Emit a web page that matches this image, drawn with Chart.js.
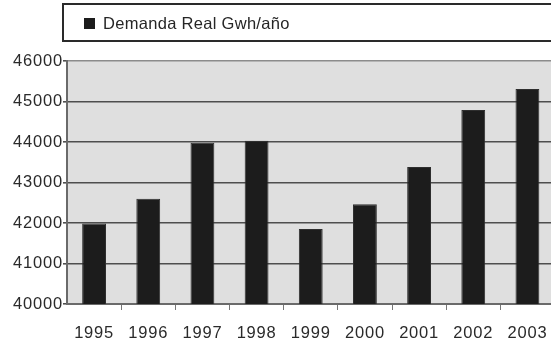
<!DOCTYPE html>
<html>
<head>
<meta charset="utf-8">
<script src="https://cdn.jsdelivr.net/npm/chart.js@4/dist/chart.umd.min.js"></script>
<style>
  html, body { margin: 0; padding: 0; background: #ffffff; overflow: hidden; }
  #wrap { position: relative; width: 560px; height: 343px; }
</style>
</head>
<body>
<div id="wrap"><canvas id="chart"></canvas></div>
<script>
// Demanda real de energía por año (GWh)
const years = ['1995', '1996', '1997', '1998', '1999', '2000', '2001', '2002', '2003'];
const demand = [41990, 42600, 43980, 44030, 41850, 42460, 43380, 44790, 45310];
const seriesLabel = 'Demanda Real Gwh/año';
const yTicks = [40000, 41000, 42000, 43000, 44000, 45000, 46000];

const FONT = 'Liberation Sans, Arial, Helvetica, sans-serif';

// Light grey fill behind the plot area
const plotBackground = {
  id: 'plotBackground',
  beforeDraw(chart) {
    const { ctx, chartArea: a } = chart;
    ctx.save();
    ctx.fillStyle = '#dfdfdf';
    ctx.fillRect(a.left, a.top, a.right - a.left, a.bottom - a.top);
    ctx.restore();
    ctx.letterSpacing = '0.8px';
  },
  afterDraw(chart) {
    chart.ctx.letterSpacing = '0px';
  }
};

// Framed legend strip above the plot
const framedLegend = {
  id: 'framedLegend',
  afterDraw(chart) {
    const { ctx } = chart;
    const ds = chart.data.datasets[0];
    ctx.save();
    ctx.letterSpacing = '0.3px';
    ctx.strokeStyle = '#2a2a2a';
    ctx.lineWidth = 2;
    ctx.strokeRect(63, 4, 520, 37);
    ctx.fillStyle = ds.backgroundColor;
    ctx.fillRect(84, 18, 11, 11);
    ctx.fillStyle = '#262626';
    ctx.font = '16.5px ' + FONT;
    ctx.textBaseline = 'middle';
    ctx.textAlign = 'left';
    ctx.fillText(ds.label, 103, 24);
    ctx.restore();
  }
};

new Chart(document.getElementById('chart'), {
  type: 'bar',
  data: {
    labels: years,
    datasets: [{
      label: seriesLabel,
      data: demand,
      backgroundColor: '#1c1c1c',
      borderColor: '#2e2e2e',
      borderWidth: 1,
      categoryPercentage: 1,
      barPercentage: 0.44
    }]
  },
  options: {
    responsive: true,
    maintainAspectRatio: false,
    animation: false,
    devicePixelRatio: 1,
    layout: { padding: { top: 61, right: 4, bottom: 0, left: 0 } },
    plugins: {
      legend: { display: false },
      tooltip: { enabled: false }
    },
    scales: {
      x: {
        offset: true,
        grid: {
          offset: true,
          drawOnChartArea: false,
          drawTicks: true,
          tickLength: 6,
          tickColor: ctx => (ctx.index === 0 ? 'rgba(0,0,0,0)' : '#777777'),
          tickWidth: 1
        },
        border: { display: true, color: '#6a6a6a', width: 2 },
        ticks: {
          color: '#2a2a2a',
          font: { family: FONT, size: 16.5 },
          padding: 14,
          maxRotation: 0,
          autoSkip: false
        },
        afterFit(scale) { scale.height = 39; }
      },
      y: {
        min: yTicks[0],
        max: yTicks[yTicks.length - 1],
        afterBuildTicks(scale) { scale.ticks = yTicks.map(v => ({ value: v })); },
        grid: {
          color: ctx => (ctx.tick && ctx.tick.value === 46000) ? '#8c8c8c' : '#4e4e4e',
          lineWidth: 1.6,
          tickLength: 4,
          tickColor: '#4e4e4e'
        },
        border: { display: true, color: '#6a6a6a', width: 2 },
        ticks: {
          color: '#2a2a2a',
          font: { family: FONT, size: 16.5 },
          padding: 0,
          callback: v => String(v)
        },
        afterFit(scale) { scale.width = 67; }
      }
    }
  },
  plugins: [plotBackground, framedLegend]
});
</script>
</body>
</html>
